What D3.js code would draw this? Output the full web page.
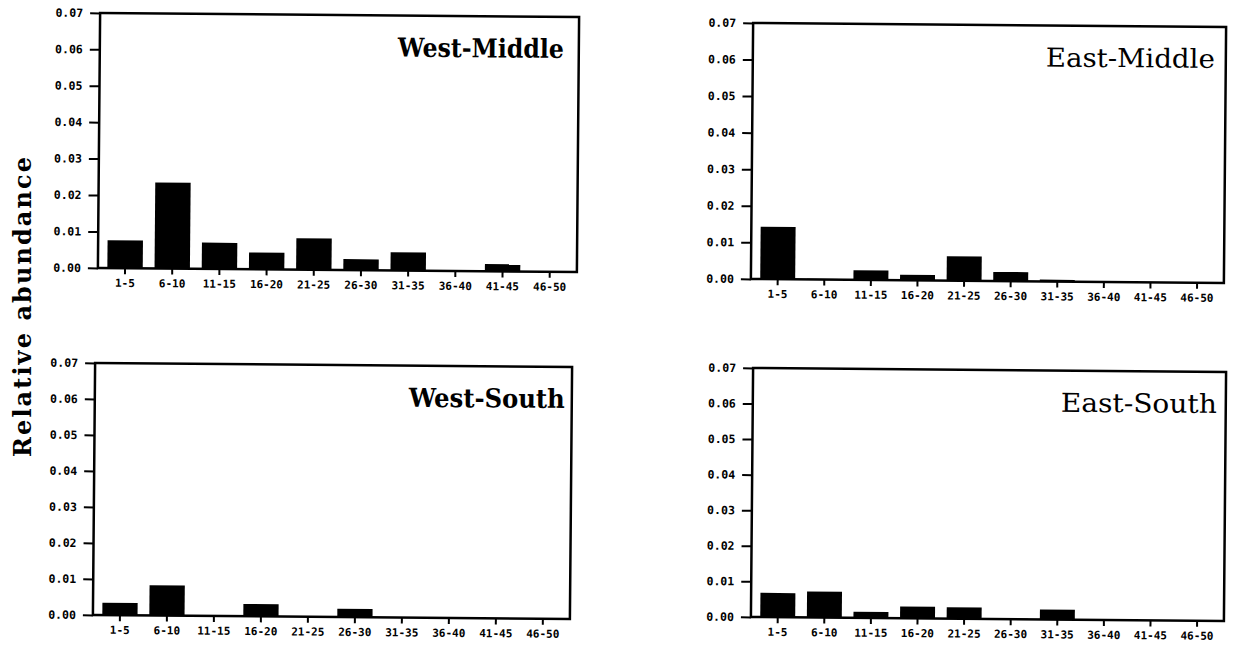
<!DOCTYPE html>
<html>
<head>
<meta charset="utf-8">
<script src="https://cdn.jsdelivr.net/npm/d3@7"></script>
<style>
  html, body { margin: 0; padding: 0; background: #fff; }
  svg { display: block; }
</style>
</head>
<body>
<svg id="chart" width="1234" height="649"></svg>
<script>
// ---- data ----
const categories = ["1-5", "6-10", "11-15", "16-20", "21-25", "26-30", "31-35", "36-40", "41-45", "46-50"];
const yTicks = [0.00, 0.01, 0.02, 0.03, 0.04, 0.05, 0.06, 0.07];
const panelNames = ["West-Middle", "East-Middle", "West-South", "East-South"];
const westMiddle = [0.0076, 0.0236, 0.0072, 0.0046, 0.0086, 0.0030, 0.0050, 0.0002, 0.0020, 0.0000];
const eastMiddle = [0.0143, 0.0002, 0.0026, 0.0015, 0.0067, 0.0025, 0.0005, 0.0001, 0.0001, 0.0000];
const westSouth  = [0.0034, 0.0084, 0.0002, 0.0034, 0.0002, 0.0023, 0.0001, 0.0000, 0.0000, 0.0000];
const eastSouth  = [0.0068, 0.0073, 0.0017, 0.0033, 0.0032, 0.0002, 0.0028, 0.0000, 0.0000, 0.0000];
const yLabel = "Relative abundance";

// ---- layout ----
const series = [westMiddle, eastMiddle, westSouth, eastSouth];
const boxes = [
  {x0: 99,  x1: 578,  y0: 15,  y1: 270, bold: true,  tEnd: 563,  tLen: 166},
  {x0: 752, x1: 1225, y0: 25,  y1: 281, bold: false, tEnd: 1214, tLen: 169},
  {x0: 94,  x1: 571,  y0: 365, y1: 617, bold: true,  tEnd: 564,  tLen: 156},
  {x0: 752, x1: 1225, y0: 370, y1: 619, bold: false, tEnd: 1216, tLen: 156}
];

const svg = d3.select("#chart");

svg.append("text")
  .attr("transform", "translate(31,307) rotate(-90)")
  .attr("x", -150)
  .attr("font-family", "DejaVu Serif")
  .attr("font-weight", "bold")
  .attr("font-size", 24)
  .attr("textLength", 300)
  .attr("lengthAdjust", "spacing")
  .attr("fill", "#000")
  .text(yLabel);

panelNames.forEach((name, i) => {
  const b = boxes[i];
  const cx = (b.x0 + b.x1) / 2, cy = (b.y0 + b.y1) / 2;
  const g = svg.append("g").attr("transform", `rotate(0.5,${cx},${cy})`);

  const x = d3.scaleBand().domain(categories).range([b.x0, b.x1])
    .paddingInner(0.25).paddingOuter(0.2);
  const y = d3.scaleLinear().domain([0, 0.07]).range([b.y1, b.y0]);

  // bars
  g.selectAll("rect.bar").data(series[i]).join("rect")
    .attr("class", "bar")
    .attr("x", (d, j) => x(categories[j]))
    .attr("width", x.bandwidth())
    .attr("y", d => y(d))
    .attr("height", d => y(0) - y(d))
    .attr("fill", "#000");

  // frame
  g.append("rect")
    .attr("x", b.x0).attr("y", b.y0)
    .attr("width", b.x1 - b.x0).attr("height", b.y1 - b.y0)
    .attr("fill", "none").attr("stroke", "#000").attr("stroke-width", 2.5);

  // y axis
  const ya = g.append("g").attr("transform", `translate(${b.x0},0)`)
    .call(d3.axisLeft(y).tickValues(yTicks).tickFormat(d3.format(".2f"))
      .tickSize(10).tickPadding(7));
  ya.select(".domain").remove();
  ya.selectAll("line").attr("stroke", "#000").attr("stroke-width", 2);
  ya.selectAll("text").attr("font-family", "DejaVu Sans Mono").attr("font-weight", "bold")
    .attr("font-size", 11.5).attr("fill", "#000");

  // x axis
  const xa = g.append("g").attr("transform", `translate(0,${b.y1})`)
    .call(d3.axisBottom(x).tickSize(6).tickPadding(5));
  xa.select(".domain").remove();
  xa.selectAll("line").attr("stroke", "#000").attr("stroke-width", 2);
  xa.selectAll("text").attr("font-family", "DejaVu Sans Mono").attr("font-weight", "bold")
    .attr("font-size", 11).attr("fill", "#000");

  // title
  g.append("text")
    .attr("x", b.tEnd - b.tLen)
    .attr("y", b.y0 + 41)
    .attr("font-family", "DejaVu Serif")
    .attr("font-weight", b.bold ? "bold" : "normal")
    .attr("font-size", 26)
    .attr("textLength", b.tLen)
    .attr("lengthAdjust", "spacingAndGlyphs")
    .attr("fill", "#000")
    .text(name);
});
</script>
</body>
</html>
